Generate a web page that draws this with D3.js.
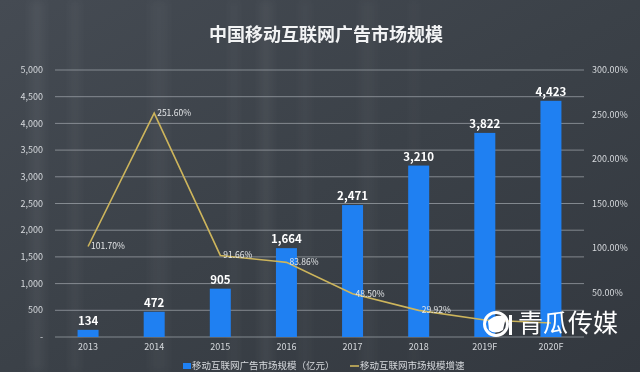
<!DOCTYPE html>
<html><head><meta charset="utf-8">
<script src="https://cdn.jsdelivr.net/npm/d3@7"></script>
<style>html,body{margin:0;padding:0;background:#3c424a;}svg{display:block;}</style>
</head><body>
<svg id="c" width="640" height="372"></svg>
<script>
const categories = ["2013","2014","2015","2016","2017","2018","2019F","2020F"];
const marketSize = [134,472,905,1664,2471,3210,3822,4423];
const growthRate = [101.70,251.60,91.66,83.86,48.50,29.92,19.07,15.72];
const leftTicks = [0,500,1000,1500,2000,2500,3000,3500,4000,4500,5000];
const rightTicks = [50,100,150,200,250,300];
const title = "中国移动互联网广告市场规模";
const barLegend = "移动互联网广告市场规模（亿元）";
const lineLegend = "移动互联网市场规模增速";
const watermark = "青瓜传媒";

const svg = d3.select("#c");
const W = 640, H = 372;
const font = "'Noto Sans CJK SC','Microsoft YaHei',sans-serif";

// background
const defs = svg.append("defs");
const bg = defs.append("linearGradient").attr("id","bg").attr("x1",0).attr("x2",1).attr("y1",0).attr("y2",1);
bg.append("stop").attr("offset","0%").attr("stop-color","#454b53");
bg.append("stop").attr("offset","50%").attr("stop-color","#3b4148");
bg.append("stop").attr("offset","100%").attr("stop-color","#33383f");
svg.append("rect").attr("width",W).attr("height",H).attr("fill","url(#bg)");
const blur = defs.append("filter").attr("id","bl").attr("x","-50%").attr("width","200%");
blur.append("feGaussianBlur").attr("stdDeviation",4);
const streaks = [[30,0.05,14],[70,0.04,10],[150,0.035,18],[230,0.04,8],[260,0.05,12],[300,0.03,10],[360,0.03,16],[410,0.025,8]];
svg.append("g").attr("filter","url(#bl)").selectAll("rect").data(streaks).join("rect")
  .attr("x",d=>d[0]).attr("y",0).attr("width",d=>d[2]).attr("height",H)
  .attr("fill","#ffffff").attr("opacity",d=>d[1]);

const x = d3.scaleBand().domain(categories).range([55,584]).padding(0);
const barW = 21;
const yL = d3.scaleLinear().domain([0,5000]).range([337,70]);
const yR = d3.scaleLinear().domain([0,300]).range([337,70]);

// grid
svg.append("g").selectAll("line").data(leftTicks).join("line")
  .attr("x1",55).attr("x2",584).attr("y1",d=>yL(d)).attr("y2",d=>yL(d))
  .attr("stroke","#a3a8ae").attr("stroke-width",1).attr("opacity",0.7);

// left axis labels
const fmt = d3.format(",");
svg.append("g").selectAll("text").data(leftTicks).join("text")
  .attr("x",43).attr("y",d=>yL(d)).attr("dy","0.35em").attr("text-anchor","end")
  .attr("font-family",font).attr("font-size",9).attr("fill","#d6d9dd")
  .text(d=>d===0?"-":fmt(d));

// right axis labels
svg.append("g").selectAll("text").data(rightTicks).join("text")
  .attr("x",592).attr("y",d=>yR(d)).attr("dy","0.35em").attr("text-anchor","start")
  .attr("font-family",font).attr("font-size",9).attr("fill","#d6d9dd")
  .text(d=>d.toFixed(2)+"%");

// x labels
svg.append("g").selectAll("text").data(categories).join("text")
  .attr("x",d=>x(d)+x.bandwidth()/2).attr("y",350).attr("text-anchor","middle")
  .attr("font-family",font).attr("font-size",9).attr("fill","#d6d9dd")
  .text(d=>d);

// bars
svg.append("g").selectAll("rect").data(marketSize).join("rect")
  .attr("x",(d,i)=>x(categories[i])+x.bandwidth()/2-barW/2)
  .attr("y",d=>yL(d)).attr("width",barW).attr("height",d=>yL(0)-yL(d))
  .attr("fill","#1f80f2");

svg.append("g").selectAll("text").data(marketSize).join("text")
  .attr("x",(d,i)=>x(categories[i])+x.bandwidth()/2).attr("y",d=>yL(d)-5)
  .attr("text-anchor","middle").attr("font-family",font).attr("font-size",11.5)
  .attr("font-weight","bold").attr("fill","#ffffff")
  .text(d=>fmt(d));

// line
const pts = growthRate.map((v,i)=>[x(categories[i])+x.bandwidth()/2, yR(v)]);
svg.append("path").datum(pts).attr("d",d3.line())
  .attr("fill","none").attr("stroke","#cdb55c").attr("stroke-width",1.6);
// labels for the last two points are hidden under the watermark in the reference
svg.append("g").selectAll("text").data(growthRate.slice(0,6)).join("text")
  .attr("x",(d,i)=>pts[i][0]+3).attr("y",(d,i)=>pts[i][1]).attr("dy","0.35em")
  .attr("font-family",font).attr("font-size",8.5).attr("fill","#e4e6e8")
  .text(d=>d.toFixed(2)+"%");

// title
svg.append("text").attr("x",326).attr("y",35).attr("dy","0.35em").attr("text-anchor","middle")
  .attr("font-family",font).attr("font-size",18).attr("font-weight","bold").attr("fill","#f2f3f4")
  .text(title);

// legend
const lg = svg.append("g").attr("font-family",font).attr("font-size",9.5).attr("fill","#d6d9dd");
lg.append("rect").attr("x",183).attr("y",363).attr("width",8).attr("height",6).attr("fill","#1f80f2");
lg.append("text").attr("x",192).attr("y",366).attr("dy","0.35em").text(barLegend);
lg.append("line").attr("x1",350).attr("x2",359).attr("y1",366).attr("y2",366).attr("stroke","#cdb55c").attr("stroke-width",1.6);
lg.append("text").attr("x",360).attr("y",366).attr("dy","0.35em").text(lineLegend);

// watermark
const wm = svg.append("g");
wm.append("circle").attr("cx",496).attr("cy",324).attr("r",11.5).attr("fill","none").attr("stroke","#ffffff").attr("stroke-width",3);
wm.append("path").attr("d","M488,321 Q496,313 506,317 L503,330 Q495,335 489,330 Z").attr("fill","#ffffff");
wm.append("rect").attr("x",509).attr("y",315).attr("width",3).attr("height",20).attr("fill","#ffffff");
wm.append("text").attr("x",518).attr("y",323).attr("dy","0.36em")
  .attr("font-family",font).attr("font-size",25).attr("fill","#ffffff").text(watermark);
</script>
</body></html>
